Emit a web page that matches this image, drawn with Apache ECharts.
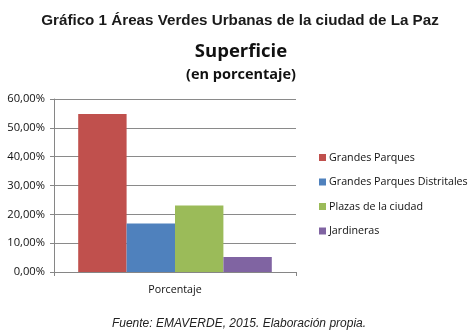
<!DOCTYPE html>
<html><head><meta charset="utf-8">
<script src="https://cdn.jsdelivr.net/npm/echarts@6/dist/echarts.min.js"></script>
<style>html,body{margin:0;padding:0;background:#fff}#c{width:475px;height:332px}</style>
</head><body><div id="c"></div>
<script>
var categories = ['Porcentaje'];
var seriesNames = ['Grandes Parques', 'Grandes Parques Distritales', 'Plazas de la ciudad', 'Jardineras'];
var seriesValues = [[54.8], [16.8], [23.1], [5.2]];
var colors = ['#C0504D', '#4F81BD', '#9BBB59', '#8064A2'];

var chart = echarts.init(document.getElementById('c'));
chart.setOption({
  animation: false,
  title: [
    {text: 'Gráfico 1 Áreas Verdes Urbanas de la ciudad de La Paz', left: 235, textAlign: 'center', top: 8,
     textStyle: {fontFamily: 'Liberation Sans', fontSize: 15.2, fontWeight: 'bold', color: '#1a1a1a'}},
    {text: 'Superficie', left: 236, textAlign: 'center', top: 37,
     textStyle: {fontFamily: 'Open Sans', fontSize: 18.5, fontWeight: 'bold', color: '#111'}},
    {text: '(en porcentaje)', left: 236, textAlign: 'center', top: 62,
     textStyle: {fontFamily: 'Open Sans', fontSize: 14.5, fontWeight: 'bold', color: '#111'}},
    {text: 'Fuente: EMAVERDE, 2015. Elaboración propia.', left: 234, textAlign: 'center', top: 313,
     textStyle: {fontFamily: 'Liberation Sans', fontSize: 12, fontStyle: 'italic', fontWeight: 'normal', color: '#222'}}
  ],
  legend: {
    orient: 'vertical', left: 314, top: 147, itemGap: 13.5,
    itemWidth: 7, itemHeight: 7, icon: 'rect',
    textStyle: {fontFamily: 'Open Sans', fontSize: 10.7, color: '#111', padding: [0,0,0,-2]},
    data: seriesNames
  },
  grid: {left: 54, top: 99, width: 242, height: 173, containLabel: false},
  xAxis: {
    type: 'category', data: categories,
    axisLine: {lineStyle: {color: '#868686'}},
    axisTick: {show: true, length: 4, lineStyle: {color: '#868686'}},
    axisLabel: {fontFamily: 'Open Sans', fontSize: 10.7, color: '#111', margin: 12}
  },
  yAxis: {
    type: 'value', min: 0, max: 60, interval: 10,
    axisLine: {show: true, lineStyle: {color: '#868686'}},
    axisTick: {show: true, inside: false, length: 4, lineStyle: {color: '#868686'}},
    splitLine: {lineStyle: {color: '#8a8a8a'}},
    axisLabel: {fontFamily: 'Open Sans', fontSize: 11.2, color: '#111', margin: 9,
      formatter: function (v) { return v.toFixed(2).replace('.', ',') + '%'; }}
  },
  series: seriesNames.map(function (n, i) {
    return {name: n, type: 'bar', data: seriesValues[i], barGap: '0%', barCategoryGap: '20%',
            itemStyle: {color: colors[i]}};
  })
});
</script></body></html>
